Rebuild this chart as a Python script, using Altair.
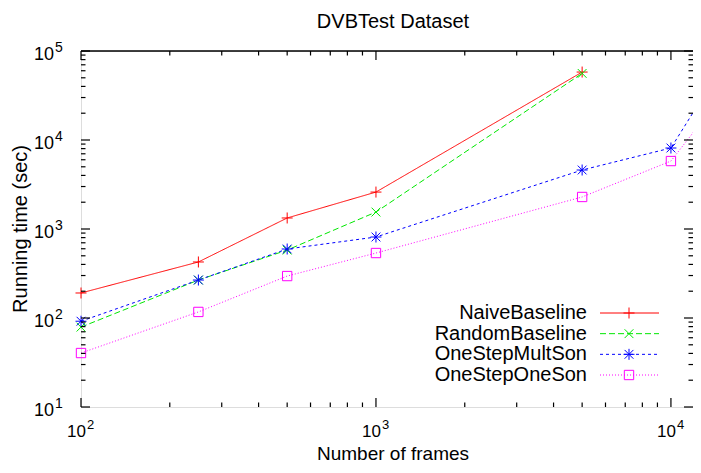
import altair as alt
import pandas as pd

FONT = "Liberation Sans"

# ---- data ----
series_names = ["NaiveBaseline", "RandomBaseline", "OneStepMultSon", "OneStepOneSon"]

frames_naive = [100, 250, 500, 1000, 5000]
time_naive = [191, 426, 1330, 2600, 58000]

frames_random = [100, 250, 500, 1000, 5000]
time_random = [79, 267, 580, 1550, 56000]

frames_mult = [100, 250, 500, 1000, 5000, 10000, 20000]
time_mult = [92, 267, 596, 813, 4600, 8130, 320000]

frames_one = [100, 250, 500, 1000, 5000, 10000, 20000]
time_one = [40.4, 117, 296, 537, 2290, 5800, 110000]

x_domain = [100, 11880]
y_domain = [10, 100000]

x_major = [100, 1000, 10000]
x_major_exp = ["2", "3", "4"]
x_minor = [200, 300, 400, 500, 600, 700, 800, 900,
           2000, 3000, 4000, 5000, 6000, 7000, 8000, 9000]
y_major = [10, 100, 1000, 10000, 100000]
y_major_exp = ["1", "2", "3", "4", "5"]
y_minor = [20, 30, 40, 50, 60, 70, 80, 90,
           200, 300, 400, 500, 600, 700, 800, 900,
           2000, 3000, 4000, 5000, 6000, 7000, 8000, 9000,
           20000, 30000, 40000, 50000, 60000, 70000, 80000, 90000]

chart_title = "DVBTest Dataset"
x_title = "Number of frames"
y_title = "Running time (sec)"

colors = ["#ff0000", "#00e800", "#0000ff", "#ff00ff"]
dashes = [[1, 0], [6, 3], [3, 3], [1, 2]]
shapes = [
    "M-1,0L1,0M0,-1L0,1",
    "M-0.8,-0.8L0.8,0.8M-0.8,0.8L0.8,-0.8",
    "M-1,0L1,0M0,-1L0,1M-0.8,-0.8L0.8,0.8M-0.8,0.8L0.8,-0.8",
    "M-0.85,-0.85L0.85,-0.85L0.85,0.85L-0.85,0.85Z",
]
marker_size = 121

W, H = 612, 356

rows = []
for name, fr, tm in [
    (series_names[0], frames_naive, time_naive),
    (series_names[1], frames_random, time_random),
    (series_names[2], frames_mult, time_mult),
    (series_names[3], frames_one, time_one),
]:
    for f, t in zip(fr, tm):
        rows.append({"series": name, "frames": f, "time": t})
df = pd.DataFrame(rows)

xs = alt.Scale(type="log", domain=x_domain, nice=False)
ys = alt.Scale(type="log", domain=y_domain, nice=False)
color = alt.Color("series:N", scale=alt.Scale(domain=series_names, range=colors), legend=None)
dash = alt.StrokeDash("series:N", scale=alt.Scale(domain=series_names, range=dashes), legend=None)
shape = alt.Shape("series:N", scale=alt.Scale(domain=series_names, range=shapes), legend=None)

lines = alt.Chart(df).mark_line(clip=True, strokeWidth=1).encode(
    x=alt.X("frames:Q", scale=xs, axis=alt.Axis(
        title="", labels=False, ticks=False, grid=False,
        domain=True, domainColor="black", domainWidth=1.5)),
    y=alt.Y("time:Q", scale=ys, axis=alt.Axis(
        title="", labels=False, ticks=False, grid=False,
        domain=True, domainColor="black", domainWidth=1.5)),
    color=color,
    strokeDash=dash,
    order="frames:Q",
)

points = alt.Chart(df).transform_filter(
    alt.datum.frames <= x_domain[1]
).mark_point(filled=False, strokeWidth=1, opacity=1, size=marker_size).encode(
    x=alt.X("frames:Q", scale=xs, axis=None),
    y=alt.Y("time:Q", scale=ys, axis=None),
    color=color,
    shape=shape,
)

xmaj = pd.DataFrame({"v": x_major, "e": x_major_exp})
xmin = pd.DataFrame({"v": x_minor})
ymaj = pd.DataFrame({"v": y_major, "e": y_major_exp})
ymin = pd.DataFrame({"v": y_minor})

def xticks(d, length):
    b = alt.Chart(d).mark_rule(color="black", strokeWidth=1.2).encode(
        x=alt.X("v:Q", scale=xs, axis=None), y=alt.value(H), y2=alt.value(H - length))
    t = alt.Chart(d).mark_rule(color="black", strokeWidth=1.2).encode(
        x=alt.X("v:Q", scale=xs, axis=None), y=alt.value(0), y2=alt.value(length))
    return [b, t]

def yticks(d, length):
    l = alt.Chart(d).mark_rule(color="black", strokeWidth=1.2).encode(
        y=alt.Y("v:Q", scale=ys, axis=None), x=alt.value(0), x2=alt.value(length))
    r = alt.Chart(d).mark_rule(color="black", strokeWidth=1.2).encode(
        y=alt.Y("v:Q", scale=ys, axis=None), x=alt.value(W), x2=alt.value(W - length))
    return [l, r]

tick_layers = xticks(xmaj, 9) + xticks(xmin, 4.5) + yticks(ymaj, 9) + yticks(ymin, 4.5)

x_base = alt.Chart(xmaj).mark_text(align="right", baseline="alphabetic", dx=5,
                                   fontSize=17, font=FONT, color="black").encode(
    x=alt.X("v:Q", scale=xs, axis=None), y=alt.value(H + 30), text=alt.value("10"))
x_exp = alt.Chart(xmaj).mark_text(align="left", baseline="alphabetic", dx=6,
                                  fontSize=13, font=FONT, color="black").encode(
    x=alt.X("v:Q", scale=xs, axis=None), y=alt.value(H + 22), text="e:N")
y_base = alt.Chart(ymaj).mark_text(align="right", baseline="alphabetic", dy=9,
                                   fontSize=18, font=FONT, color="black").encode(
    y=alt.Y("v:Q", scale=ys, axis=None), x=alt.value(-27), text=alt.value("10"))
y_exp = alt.Chart(ymaj).mark_text(align="left", baseline="alphabetic", dy=1,
                                  fontSize=14, font=FONT, color="black").encode(
    y=alt.Y("v:Q", scale=ys, axis=None), x=alt.value(-26), text="e:N")

one = pd.DataFrame({"a": [0]})
top_border = alt.Chart(one).mark_rule(color="black", strokeWidth=1.5).encode(
    x=alt.value(0), x2=alt.value(W), y=alt.value(0))
x_title_mark = alt.Chart(one).mark_text(align="center", baseline="alphabetic", fontSize=19,
                                        font=FONT, color="black", text=x_title).encode(
    x=alt.value(312), y=alt.value(H + 53))
y_title_mark = alt.Chart(one).mark_text(align="center", baseline="middle", fontSize=20,
                                        font=FONT, color="black", angle=270, text=y_title).encode(
    x=alt.value(-60), y=alt.value(H / 2))

inner = alt.layer(lines, points, *tick_layers, x_base, x_exp, y_base, y_exp,
                  top_border, x_title_mark, y_title_mark)

leg_df = pd.DataFrame({"series": series_names})
leg_y = alt.Y("series:N", sort=series_names,
              scale=alt.Scale(type="point", range=[262, 324], padding=0), axis=None)
leg_rule = alt.Chart(leg_df).mark_rule(strokeWidth=1).encode(
    x=alt.value(519), x2=alt.value(578), y=leg_y, color=color, strokeDash=dash)
leg_pt = alt.Chart(leg_df).mark_point(filled=False, strokeWidth=1, opacity=1,
                                      size=marker_size).encode(
    x=alt.value(548), y=leg_y, color=color, shape=shape)
leg_txt = alt.Chart(leg_df).mark_text(align="right", baseline="middle", fontSize=20,
                                      font=FONT, color="black").encode(
    x=alt.value(506), y=leg_y, text="series:N")
legend = alt.layer(leg_rule, leg_pt, leg_txt)

chart = alt.layer(inner, legend).resolve_scale(y="independent").properties(
    width=W, height=H,
    title=alt.Title(chart_title, fontSize=20, font=FONT, fontWeight="normal",
                    color="black", anchor="middle", offset=9, dx=6),
    autosize=alt.AutoSizeParams(type="none"),
    padding={"left": 73, "top": 43, "right": 0, "bottom": 58},
).configure_view(stroke=None).configure(background="white")

chart.save("out.html", embed_options={"renderer": "svg", "actions": False})
